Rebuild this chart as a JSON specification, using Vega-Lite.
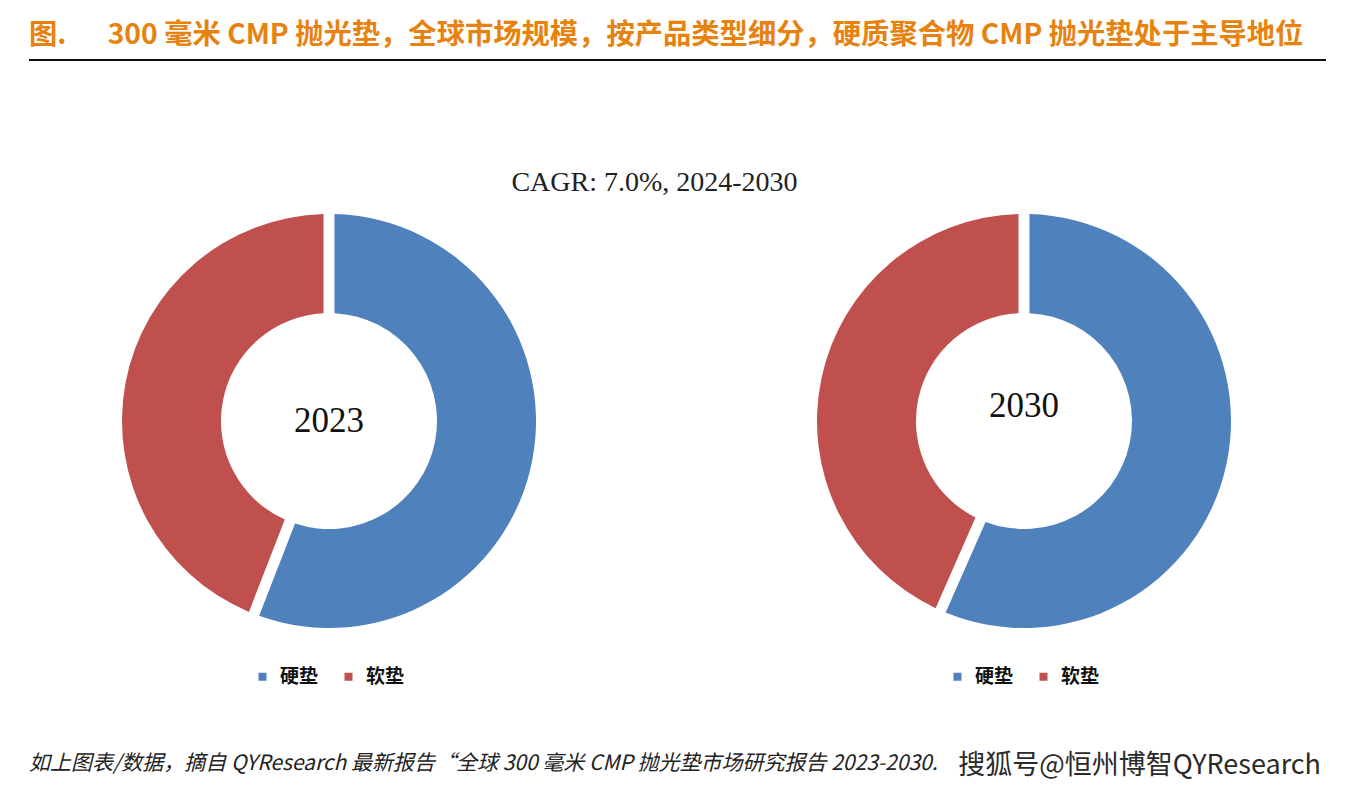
{
  "$schema": "https://vega.github.io/schema/vega-lite/v6.json",
  "background": "white",
  "padding": {"top": 14, "left": 28, "right": 0, "bottom": 0},
  "config": {
    "view": {"stroke": null},
    "legend": {"layout": {"bottom": {"anchor": "middle"}}}
  },
  "datasets": {
    "shares": [
      {"year": "2023", "type": "硬垫", "share": 55.9, "idx": 1},
      {"year": "2023", "type": "软垫", "share": 44.1, "idx": 2},
      {"year": "2030", "type": "硬垫", "share": 56.6, "idx": 1},
      {"year": "2030", "type": "软垫", "share": 43.4, "idx": 2}
    ],
    "header": [{"pos": 0, "text": "图.\u3000\u00a0\u00a0300 毫米 CMP 抛光垫，全球市场规模，按产品类型细分，硬质聚合物 CMP 抛光垫处于主导地位"}],
    "footer": [
      {"pos": 0, "kind": "note", "text": "如上图表/数据，摘自 QYResearch 最新报告“全球 300 毫米 CMP 抛光垫市场研究报告 2023-2030."},
      {"pos": 1, "kind": "mark", "text": "搜狐号@恒州博智QYResearch"}
    ]
  },
  "spacing": 57,
  "vconcat": [
    {
      "width": 1297,
      "height": 98,
      "data": {"name": "header"},
      "layer": [
        {
          "mark": {"type": "text", "align": "left", "baseline": "middle", "fontSize": 28.3, "fontWeight": "bold", "font": "Noto Sans CJK SC", "color": "#E8820E"},
          "encoding": {
            "x": {"field": "pos", "type": "quantitative", "scale": {"domain": [0, 1]}, "axis": null},
            "y": {"datum": 0.776, "type": "quantitative", "scale": {"domain": [0, 1]}, "axis": null},
            "text": {"field": "text"}
          }
        },
        {
          "mark": {"type": "rule", "color": "#111111", "strokeWidth": 2},
          "encoding": {
            "x": {"datum": 0, "type": "quantitative", "scale": {"domain": [0, 1]}, "axis": null},
            "x2": {"datum": 1},
            "y": {"datum": 0.5306, "type": "quantitative", "axis": null}
          }
        }
      ]
    },
    {
      "title": {"text": "CAGR: 7.0%, 2024-2030", "font": "Liberation Serif", "fontSize": 28, "fontWeight": "normal", "color": "#222222", "anchor": "middle", "dx": -22, "offset": 4},
      "spacing": 95,
      "resolve": {"legend": {"color": "independent"}},
      "hconcat": [
        {
          "width": 600,
          "height": 440,
          "layer": [
            {
              "data": {"name": "shares"},
              "transform": [{"filter": "datum.year == '2023'"}],
              "mark": {"type": "arc", "innerRadius": 108, "outerRadius": 207, "padAngle": 0.047},
              "encoding": {
                "theta": {"field": "share", "type": "quantitative", "stack": true},
                "order": {"field": "idx", "type": "quantitative"},
                "color": {
                  "field": "type", "type": "nominal",
                  "scale": {"domain": ["硬垫", "软垫"], "range": ["#4F81BD", "#C0504D"]},
                  "legend": {"orient": "bottom", "direction": "horizontal", "title": null, "symbolType": "square", "symbolSize": 64, "labelFontSize": 19, "labelFont": "Noto Sans CJK SC", "labelFontWeight": "bold", "labelColor": "#111111", "columnPadding": 20, "labelOffset": 8, "offset": 26}
                }
              }
            },
            {
              "data": {"values": [{"label": "2023"}]},
              "mark": {"type": "text", "font": "Liberation Serif", "fontSize": 35, "color": "#111111", "baseline": "middle"},
              "encoding": {"text": {"field": "label"}}
            }
          ]
        },
        {
          "width": 600,
          "height": 440,
          "layer": [
            {
              "data": {"name": "shares"},
              "transform": [{"filter": "datum.year == '2030'"}],
              "mark": {"type": "arc", "innerRadius": 108, "outerRadius": 207, "padAngle": 0.047},
              "encoding": {
                "theta": {"field": "share", "type": "quantitative", "stack": true},
                "order": {"field": "idx", "type": "quantitative"},
                "color": {
                  "field": "type", "type": "nominal",
                  "scale": {"domain": ["硬垫", "软垫"], "range": ["#4F81BD", "#C0504D"]},
                  "legend": {"orient": "bottom", "direction": "horizontal", "title": null, "symbolType": "square", "symbolSize": 64, "labelFontSize": 19, "labelFont": "Noto Sans CJK SC", "labelFontWeight": "bold", "labelColor": "#111111", "columnPadding": 20, "labelOffset": 8, "offset": 26}
                }
              }
            },
            {
              "data": {"values": [{"label": "2030"}]},
              "mark": {"type": "text", "font": "Liberation Serif", "fontSize": 35, "color": "#111111", "baseline": "middle", "dy": -15},
              "encoding": {"text": {"field": "label"}}
            }
          ]
        }
      ]
    },
    {
      "width": 1297,
      "height": 40,
      "data": {"name": "footer"},
      "layer": [
        {
          "transform": [{"filter": "datum.kind == 'note'"}],
          "mark": {"type": "text", "align": "left", "baseline": "middle", "fontSize": 21, "fontStyle": "italic", "font": "Noto Sans CJK SC", "color": "#222222"},
          "encoding": {
            "x": {"field": "pos", "type": "quantitative", "scale": {"domain": [0, 1]}, "axis": null},
            "text": {"field": "text"}
          }
        },
        {
          "transform": [{"filter": "datum.kind == 'mark'"}],
          "mark": {"type": "text", "align": "right", "baseline": "middle", "fontSize": 27, "font": "Noto Sans CJK SC", "color": "#2a2a2a", "dx": -5, "dy": 2},
          "encoding": {
            "x": {"field": "pos", "type": "quantitative", "scale": {"domain": [0, 1]}, "axis": null},
            "text": {"field": "text"}
          }
        }
      ]
    }
  ]
}
